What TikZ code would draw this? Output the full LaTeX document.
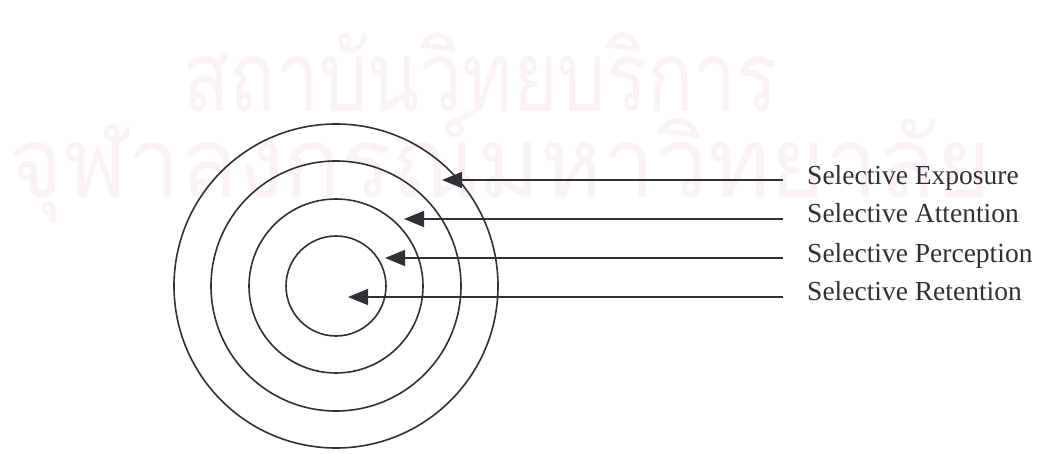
\documentclass[tikz,border=0pt]{standalone}
\usepackage{fontspec}
\setmainfont{Liberation Serif}
\newfontfamily\thaifont[Script=Thai]{Loma}
\usetikzlibrary{arrows.meta}
\definecolor{ink}{RGB}{48,48,56}
\definecolor{wmark}{RGB}{250,242,247}
\tikzset{
  ring/.style={circle, draw=ink, line width=1.6pt, inner sep=0pt},
  lbl/.style={anchor=base west, inner xsep=0pt, inner ysep=0pt, text=ink,
    font=\fontsize{27.5}{32}\selectfont},
  arr/.style={draw=ink, line width=1.6pt, -{Triangle[length=20pt,width=16pt]}},
  wm/.style={text=wmark, anchor=base west, inner sep=0pt, font=\thaifont\fontsize{98}{110}\selectfont}
}
\begin{document}
\begin{tikzpicture}[x=1pt,y=-1pt]
\useasboundingbox (0,0) rectangle (1054,454);
\fill[white] (0,0) rectangle (1054,454);
% watermark
\node[wm] (wm1) at (183,112) {\scalebox{0.78}[1]{สถาบันวิทยบริการ}};
\node[wm] (wm2) at (8,198) {\scalebox{0.96}[1]{จุฬาลงกรณ์มหาวิทยาลัย}};
% rings
\node[ring, minimum size=324pt] (c1) at (336,286) {};
\node[ring, minimum size=250pt] (c2) at (336,286) {};
\node[ring, minimum size=174pt] (c3) at (336,286) {};
\node[ring, minimum size=100pt] (c4) at (336,286) {};
% labels
\node[lbl] (l1) at (807,185) {Selective Exposure};
\node[lbl] (l2) at (807,223) {Selective Attention};
\node[lbl] (l3) at (807,262) {Selective Perception};
\node[lbl] (l4) at (807,300) {Selective Retention};
% line starts and tips
\coordinate (s1) at (783,180);
\coordinate (s2) at (783,219);
\coordinate (s3) at (783,258);
\coordinate (s4) at (783,297);
\coordinate (t1) at (442,180);
\coordinate (t2) at (404,219);
\coordinate (t3) at (385,258);
\coordinate (t4) at (348,297);
\draw[arr] (s1) -- (t1);
\draw[arr] (s2) -- (t2);
\draw[arr] (s3) -- (t3);
\draw[arr] (s4) -- (t4);
\end{tikzpicture}
\end{document}
